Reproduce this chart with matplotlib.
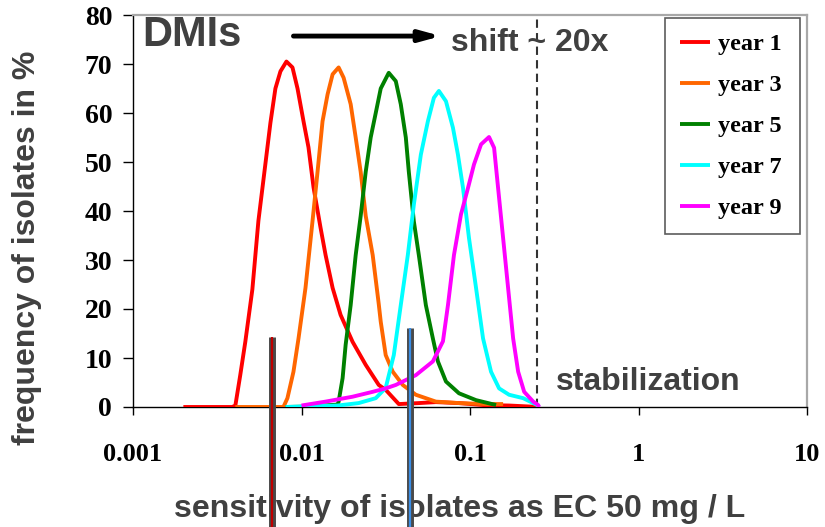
import matplotlib
matplotlib.use("Agg")
import matplotlib.pyplot as plt
from matplotlib.lines import Line2D
import matplotlib.transforms as mtransforms

# ---------------- data (EC50 in mg/L, frequency in %) ----------------
year1_x = [0.00199, 0.00388, 0.00405, 0.00433, 0.00464, 0.00511, 0.00555, 0.00610, 0.00654,
           0.00700, 0.00750, 0.00814, 0.00884, 0.00947, 0.01028, 0.0110, 0.01179, 0.01297,
           0.0139, 0.0153, 0.01706, 0.0201, 0.02405, 0.02874, 0.0316, 0.0378, 0.0497,
           0.0627, 0.0860, 0.1195, 0.1706, 0.2574]
year1_y = [0, 0, 0.3, 6.5, 13.3, 24, 38, 49.5, 58, 65, 68.5, 70.5, 69.3, 65, 58.3, 53, 44.8,
           36.6, 31, 24.3, 18.8, 13.3, 8.6, 4.5, 3.5, 0.6, 0.8, 1.0, 0.8, 0.4, 0.3, 0]

year3_x = [0.00405, 0.00781, 0.00825, 0.00896, 0.0096, 0.01056, 0.01163, 0.01245, 0.01333,
           0.01428, 0.0153, 0.01661, 0.01778, 0.01958, 0.02097, 0.02245, 0.02405, 0.02646,
           0.02874, 0.02953, 0.0316, 0.0348, 0.0399, 0.0477, 0.0627, 0.0860, 0.1245, 0.1572]
year3_y = [0, 0, 1.8, 7.2, 14, 24.3, 38, 48, 58.3, 63.8, 67.9, 69.3, 67.2, 61.8, 55, 48, 39,
           31, 21, 17.4, 10.6, 7.2, 4.5, 2.5, 1.1, 0.8, 0.6, 0.6]

year5_x = [0.00803, 0.0113, 0.01638, 0.01661, 0.01754, 0.01828, 0.01958, 0.02097, 0.02245,
           0.02405, 0.02574, 0.02758, 0.02953, 0.03295, 0.03627, 0.03883, 0.0416, 0.04334,
           0.04642, 0.0497, 0.0547, 0.0602, 0.0645, 0.0720, 0.0860, 0.1086, 0.1428]
year5_y = [0, 0.1, 0.5, 1.1, 5.9, 12.7, 20.8, 31, 39, 48, 55, 60, 65, 68.2, 66.5, 61.8, 55,
           48, 37.9, 31, 20.8, 14, 9.3, 5.2, 2.8, 1.4, 0.4]

year7_x = [0.00803, 0.01638, 0.02185, 0.02758, 0.0316, 0.0353, 0.03883, 0.04275, 0.04642,
           0.05108, 0.05623, 0.06104, 0.06537, 0.0720, 0.0792, 0.0848, 0.0909, 0.0986,
           0.1086, 0.1195, 0.1333, 0.1488, 0.1706, 0.2068, 0.2505, 0.257]
year7_y = [0, 0.3, 0.8, 1.8, 3.9, 10.6, 20.8, 31, 41.3, 51.5, 58.3, 63.1, 64.5, 62.4, 57,
           51.5, 44.7, 34.5, 24.3, 14, 7.2, 3.8, 2.5, 1.8, 0.4, 0]

year9_x = [0.0100, 0.0139, 0.0201, 0.02646, 0.0316, 0.03627, 0.0477, 0.0602, 0.0691, 0.0740,
           0.0803, 0.0884, 0.0973, 0.1056, 0.1163, 0.1297, 0.139, 0.1468, 0.1572, 0.1683,
           0.1803, 0.1931, 0.2097, 0.2372, 0.2539, 0.257]
year9_y = [0.3, 1.1, 2.1, 3.1, 3.8, 4.5, 6.5, 9.3, 13.4, 20.8, 31, 39.3, 44.7, 49.5, 53.6,
           55.1, 52.9, 44.7, 34.5, 24.3, 14, 7.2, 3.1, 1.1, 0.4, 0]

series_labels = ["year 1", "year 3", "year 5", "year 7", "year 9"]
series_colors = ["#FF0000", "#FF6600", "#008000", "#00FFFF", "#FF00FF"]

stabilization_ec50 = 0.25
marker_x = [0.00672, 0.0439]
marker_top = [14.3, 16.2]
marker_colors = ["#C00000", "#3A8EE6"]

x_ticks = [0.001, 0.01, 0.1, 1, 10]
x_tick_labels = ["0.001", "0.01", "0.1", "1", "10"]
y_ticks = [0, 10, 20, 30, 40, 50, 60, 70, 80]

# ---------------- figure ----------------
fig = plt.figure(figsize=(8.25, 5.27), dpi=100)
ax = fig.add_axes([133 / 825, 1 - 407 / 527, (807 - 133) / 825, (407 - 15) / 527])

sans = "Liberation Sans"
serif = "Liberation Serif"
gray_txt = "#404040"

all_x = [year1_x, year3_x, year5_x, year7_x, year9_x]
all_y = [year1_y, year3_y, year5_y, year7_y, year9_y]
for xs, ys, lab, col in zip(all_x, all_y, series_labels, series_colors):
    ax.plot(xs, ys, color=col, lw=2.8, label=lab, solid_joinstyle="round",
            solid_capstyle="butt", zorder=3)

ax.set_xscale("log")
ax.set_xlim(0.001, 10)
ax.set_ylim(0, 80)

ax.set_xticks(x_ticks)
ax.set_xticklabels(x_tick_labels)
ax.minorticks_off()
ax.set_yticks(y_ticks)
ax.tick_params(axis="x", direction="out", length=6, width=1, pad=20, labelsize=19)
ax.tick_params(axis="y", direction="out", length=7, width=1, pad=8, labelsize=20)
for lab in ax.get_xticklabels() + ax.get_yticklabels():
    lab.set_fontfamily(serif)
    lab.set_fontweight("bold")

for side in ["top", "right"]:
    ax.spines[side].set_color("#A8A8A8")
    ax.spines[side].set_linewidth(1.6)
for side in ["left", "bottom"]:
    ax.spines[side].set_color("black")
    ax.spines[side].set_linewidth(1.0)

# stabilization line
ax.axvline(stabilization_ec50, color="#333333", lw=1.5, dashes=(4, 2.5), zorder=2)

# texts
ax.text(0.00113, 73.6, "DMIs", fontfamily=sans, fontweight="bold", fontsize=30,
        color=gray_txt, va="baseline", ha="left")
ax.text(0.0771, 72.6, "shift ~ 20x", fontfamily=sans, fontweight="bold", fontsize=23,
        color=gray_txt, va="baseline", ha="left")
ax.text(0.325, 3.5, "stabilization", fontfamily=sans, fontweight="bold", fontsize=23,
        color=gray_txt, va="baseline", ha="left")
ax.annotate("", xy=(0.0672, 75.7), xytext=(0.00896, 75.7),
            arrowprops=dict(arrowstyle="-|>,head_length=1.2,head_width=0.33",
                            color="black", lw=3.5, shrinkA=0, shrinkB=0))

ax.set_ylabel("frequency of isolates in %", fontfamily=sans, fontweight="bold",
              fontsize=23, color=gray_txt)
ax.set_xlabel("sensitivity of isolates as EC 50 mg / L", fontfamily=sans,
              fontweight="bold", fontsize=23.1, color=gray_txt)
ax.yaxis.set_label_coords(-91 / 674, (407 - 247.5) / 392)
ax.xaxis.set_label_coords((460 - 133) / 674, -87 / 392)

# legend
leg = ax.legend(loc="upper left", bbox_to_anchor=((665 - 133) / 674, (407 - 22) / 392,
                                                  135 / 674, 0.01),
                mode="expand",
                prop=dict(family=serif, weight="bold", size=17.5), frameon=True,
                fancybox=False, edgecolor="#333333", handlelength=1.25,
                handletextpad=0.3, labelspacing=0.78, borderpad=0.62,
                borderaxespad=0)
leg.get_frame().set_linewidth(1.2)
for h in leg.get_lines():
    h.set_linewidth(2.8)

# vertical marker bars extending below the axis
trans = mtransforms.blended_transform_factory(ax.transData, fig.transFigure)
for mx, mt, mc in zip(marker_x, marker_top, marker_colors):
    top_fig = fig.transFigure.inverted().transform(ax.transData.transform((mx, mt)))[1]
    for lw, col in [(5.0, "#4A4A4A"), (1.6, mc)]:
        ln = Line2D([mx, mx], [0, top_fig], transform=trans, color=col, lw=lw,
                    solid_capstyle="butt", zorder=20, clip_on=False)
        fig.add_artist(ln)

fig.savefig("out.png", dpi=100)
